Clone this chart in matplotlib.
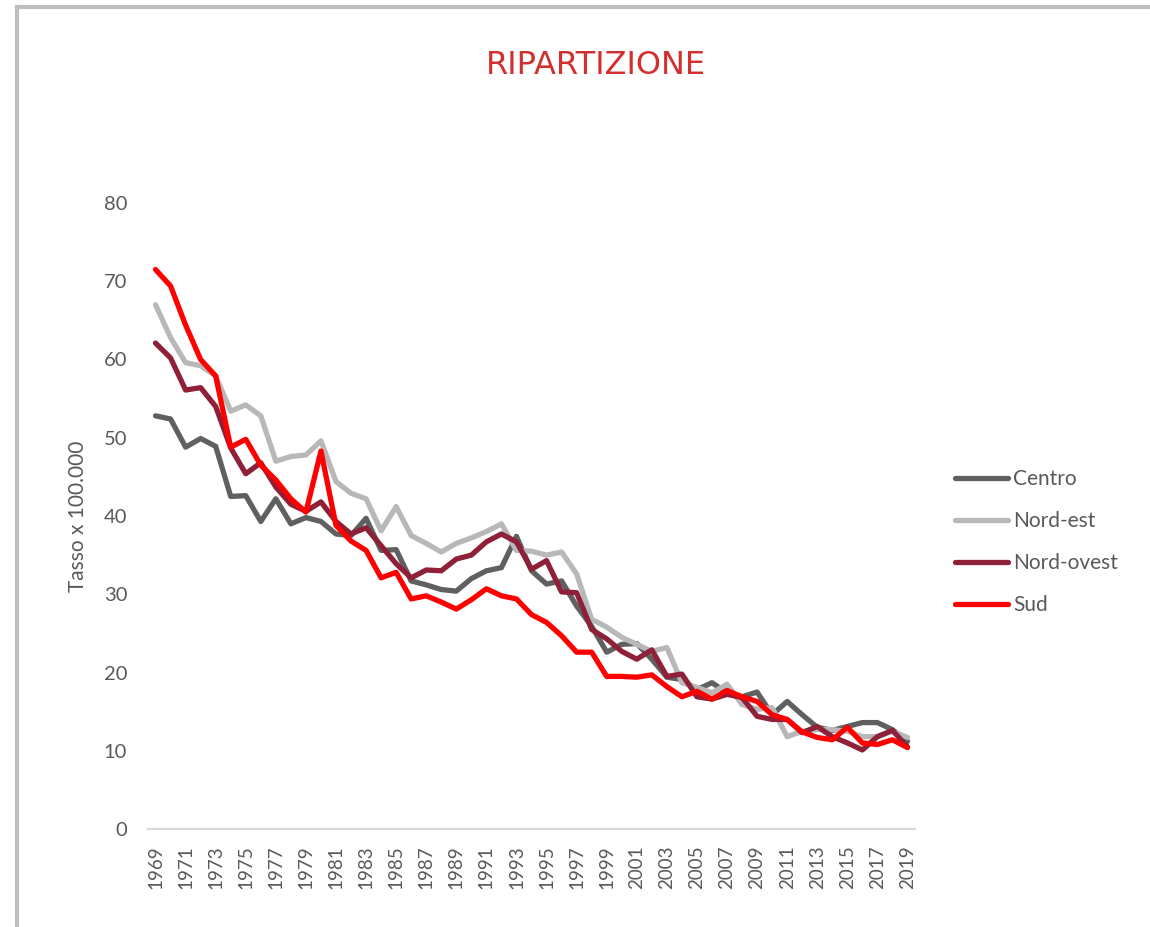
import matplotlib.pyplot as plt
from matplotlib.lines import Line2D

years = [str(y) for y in range(1969, 2020)]

centro = [52.8, 52.4, 48.8, 49.9, 48.9, 42.5, 42.6, 39.3, 42.2, 39.0,
          39.8, 39.3, 37.7, 37.5, 39.7, 35.6, 35.7, 31.7, 31.2, 30.6,
          30.4, 32.0, 33.0, 33.4, 37.4, 33.0, 31.3, 31.7, 28.5, 25.9,
          22.6, 23.6, 23.7, 21.7, 19.4, 19.1, 17.8, 18.7, 17.4, 16.9,
          17.5, 14.6, 16.3, 14.6, 13.0, 12.6, 13.1, 13.6, 13.6, 12.7,
          11.2]
nord_est = [67.0, 62.8, 59.6, 59.2, 57.9, 53.4, 54.2, 52.8, 47.0, 47.6,
            47.8, 49.6, 44.4, 42.9, 42.2, 38.1, 41.2, 37.5, 36.5, 35.4,
            36.5, 37.2, 38.0, 39.0, 35.6, 35.5, 35.0, 35.4, 32.6, 26.8,
            25.8, 24.5, 23.6, 22.7, 23.2, 18.7, 18.1, 17.4, 18.5, 15.9,
            15.3, 15.5, 11.8, 12.5, 12.7, 12.7, 12.5, 11.8, 11.8, 12.5,
            11.7]
nord_ovest = [62.1, 60.2, 56.1, 56.4, 54.0, 48.7, 45.4, 46.8, 43.7, 41.5,
              40.6, 41.8, 39.3, 37.7, 38.5, 36.2, 33.9, 32.1, 33.1, 33.0,
              34.5, 35.0, 36.7, 37.7, 36.7, 33.2, 34.3, 30.3, 30.2, 25.5,
              24.3, 22.7, 21.7, 22.9, 19.5, 19.8, 16.9, 16.6, 17.2, 16.8,
              14.4, 14.0, 14.0, 12.3, 13.1, 11.8, 11.0, 10.1, 11.8, 12.6,
              10.5]
sud = [71.5, 69.4, 64.4, 60.0, 57.9, 48.8, 49.8, 46.5, 44.6, 42.2,
       40.5, 48.3, 38.8, 36.8, 35.6, 32.1, 32.8, 29.4, 29.8, 29.0,
       28.1, 29.3, 30.7, 29.8, 29.4, 27.4, 26.4, 24.7, 22.6, 22.6,
       19.5, 19.5, 19.4, 19.7, 18.2, 16.9, 17.6, 16.6, 17.7, 16.9,
       16.3, 14.6, 14.0, 12.4, 11.7, 11.4, 13.0, 11.0, 10.8, 11.4,
       10.4]

labels = ["Centro", "Nord-est", "Nord-ovest", "Sud"]
colors = ["#606060", "#b8b8b8", "#8e2037", "#ff0000"]
grey_txt = "#595959"

plt.rcParams['font.family'] = ['Lato', 'DejaVu Sans']

fig = plt.figure(figsize=(11.5, 9.27), dpi=100)
ax = fig.add_axes([148 / 1150, 1 - 829 / 927, 767 / 1150, 626 / 927])

x = range(len(years))
for data, lab, col in zip([centro, nord_est, nord_ovest, sud], labels, colors):
    ax.plot(x, data, color=col, lw=3.8, label=lab, solid_capstyle='round')

ax.set_xlim(-0.5, len(years) - 0.5)
ax.set_ylim(0, 80)
ax.set_yticks(range(0, 81, 10))
ax.set_xticks(list(x)[::2])
ax.set_xticklabels(years[::2], rotation=90, fontsize=13.5, color=grey_txt)
ax.tick_params(axis='y', length=0, pad=15, labelsize=14.5, labelcolor=grey_txt)
ax.tick_params(axis='x', length=0, pad=12)

for s in ['top', 'right', 'left']:
    ax.spines[s].set_visible(False)
ax.spines['bottom'].set_color('#d9d9d9')
ax.spines['bottom'].set_linewidth(1.5)

ax.set_ylabel("Tasso x 100.000", fontsize=15, color=grey_txt)
ax.yaxis.set_label_coords(-0.078, 0.5)

fig.text(596 / 1150, 1 - 66 / 927, "RIPARTIZIONE", color="#d2302f",
         fontsize=23, ha='center', va='center',
         family=['Liberation Sans Narrow', 'DejaVu Sans'])

fig.legend(loc='center left', bbox_to_anchor=(955 / 1150, 1 - 542 / 927),
           bbox_transform=fig.transFigure, frameon=False, fontsize=15,
           handlelength=2.55, handletextpad=0.25, labelspacing=1.05,
           borderpad=0, borderaxespad=0, labelcolor=grey_txt)

# outer chart-area border (top and left visible)
fig.add_artist(Line2D([16.5 / 1150, 1], [1 - 7 / 927, 1 - 7 / 927],
                      transform=fig.transFigure, color='#bfbfbf', lw=3))
fig.add_artist(Line2D([16.5 / 1150, 16.5 / 1150], [0, 1 - 7 / 927],
                      transform=fig.transFigure, color='#bfbfbf', lw=3))

fig.savefig("out.png", dpi=100)
